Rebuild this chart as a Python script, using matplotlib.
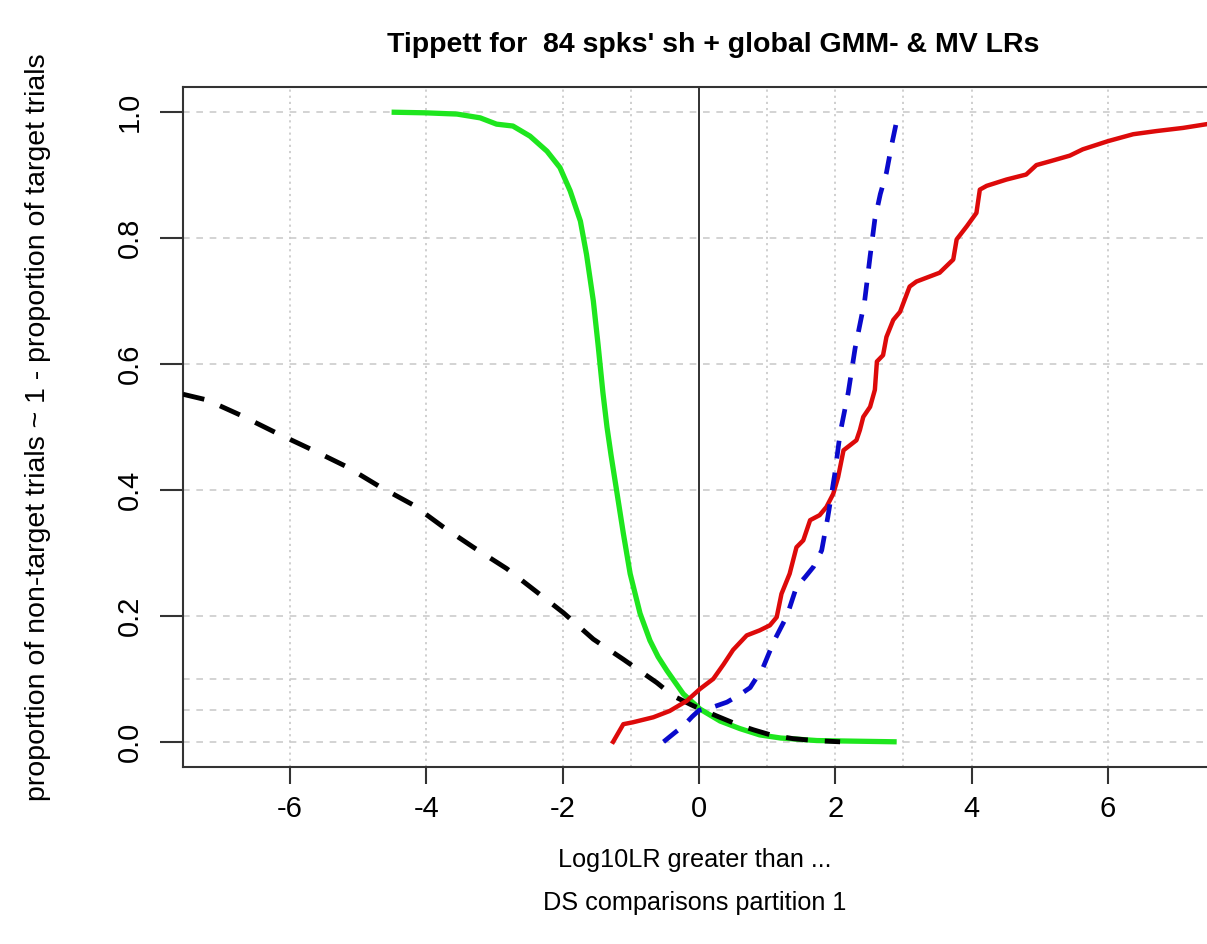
import matplotlib
matplotlib.use("Agg")
import matplotlib.pyplot as plt

# ---------------- data ----------------
title = "Tippett for  84 spks' sh + global GMM- & MV LRs"
xlabel_lines = ["Log10LR greater than ...", "DS comparisons partition 1"]
ylabel = "proportion of non-target trials ~ 1 - proportion of target trials"

x_ticks = [-6, -4, -2, 0, 2, 4, 6]
y_ticks = [0.0, 0.2, 0.4, 0.6, 0.8, 1.0]
y_tick_labels = ["0.0", "0.2", "0.4", "0.6", "0.8", "1.0"]
x_grid = [-6, -4, -2, -1, 1, 2, 3, 4, 6]
y_grid = [0.0, 0.05, 0.1, 0.2, 0.4, 0.6, 0.8, 1.0]

# green: non-target (solid)
green_x = [-4.51, -4.02, -3.55, -3.21, -2.97, -2.73, -2.48, -2.23, -2.04, -1.89,
           -1.74, -1.65, -1.55, -1.48, -1.41, -1.35, -1.29, -1.21, -1.11, -1.01,
           -0.865, -0.72, -0.60, -0.47, -0.23, 0.015, 0.31, 0.60, 0.89, 1.2, 1.73, 2.3, 2.9]
green_y = [1.0, 0.999, 0.997, 0.991, 0.981, 0.978, 0.962, 0.938, 0.912, 0.875,
           0.827, 0.774, 0.70, 0.63, 0.555, 0.50, 0.455, 0.40, 0.331, 0.267,
           0.204, 0.161, 0.135, 0.113, 0.076, 0.052, 0.033, 0.021, 0.011, 0.006, 0.002, 0.001, 0.0]

# black dashed: non-target (MV)
black_x = [-7.57, -7.22, -6.73, -6.19, -5.66, -5.17, -4.68, -4.19, -3.75, -3.31,
           -2.82, -2.38, -1.99, -1.55, -1.11, -0.62, -0.38, -0.08, 0.26, 0.55,
           0.80, 1.05, 1.38, 1.7, 2.07]
black_y = [0.552, 0.543, 0.519, 0.49, 0.463, 0.437, 0.405, 0.376, 0.341, 0.309,
           0.275, 0.238, 0.205, 0.163, 0.131, 0.094, 0.073, 0.057, 0.041, 0.028,
           0.019, 0.011, 0.005, 0.002, 0.0]

# red: target (solid, step-like)
red_x = [-1.26, -1.11, -0.97, -0.67, -0.43, -0.18, 0.015, 0.21, 0.36, 0.50,
         0.70, 0.89, 1.04, 1.14, 1.21, 1.33, 1.43, 1.53, 1.63, 1.77,
         1.87, 1.97, 2.04, 2.12, 2.31, 2.36, 2.41, 2.51, 2.58, 2.61,
         2.70, 2.75, 2.85, 2.95, 3.09, 3.19, 3.53, 3.73, 3.78, 3.93,
         4.07, 4.12, 4.22, 4.51, 4.80, 4.95, 5.15, 5.44, 5.63, 6.0,
         6.37, 6.71, 7.10, 7.45, 7.6]
red_y = [0.0, 0.028, 0.031, 0.039, 0.049, 0.065, 0.084, 0.10, 0.123, 0.146,
         0.169, 0.177, 0.185, 0.198, 0.235, 0.267, 0.309, 0.32, 0.352, 0.36,
         0.373, 0.394, 0.42, 0.463, 0.479, 0.495, 0.516, 0.532, 0.559, 0.604,
         0.614, 0.643, 0.670, 0.683, 0.723, 0.731, 0.745, 0.766, 0.798, 0.819,
         0.84, 0.877, 0.883, 0.893, 0.901, 0.916, 0.922, 0.931, 0.941, 0.954,
         0.965, 0.97, 0.975, 0.981, 0.982]

# blue dashed: target (MV)
blue_x = [-0.52, -0.35, -0.23, -0.10, 0.0, 0.2, 0.41, 0.6, 0.75, 0.94,
          1.1, 1.29, 1.43, 1.56, 1.68, 1.80, 1.89, 1.99, 2.07, 2.19,
          2.29, 2.43, 2.51, 2.58, 2.66, 2.75, 2.83, 2.90, 2.93]
blue_y = [0.0, 0.015, 0.025, 0.04, 0.05, 0.055, 0.063, 0.075, 0.086, 0.118,
          0.16, 0.20, 0.246, 0.262, 0.278, 0.304, 0.357, 0.424, 0.49, 0.555,
          0.625, 0.70, 0.771, 0.83, 0.87, 0.904, 0.95, 0.986, 0.995]

# ---------------- figure ----------------
W, H = 1207, 944
fig = plt.figure(figsize=(W / 100, H / 100), dpi=100)
plt.rcParams['font.family'] = ['Liberation Sans', 'DejaVu Sans']

left, right, top, bottom = 183, 1215, 87, 767
ax = fig.add_axes([left / W, 1 - bottom / H, (right - left) / W, (bottom - top) / H])
ax.set_xlim(-7.57, 7.57)
ax.set_ylim(-0.04, 1.04)

grid_col = "#cccccc"
for gx in x_grid:
    ax.axvline(gx, color=grid_col, lw=1.3, ls=(0, (1.2, 2.2)), zorder=1)
for gy in y_grid:
    ax.axhline(gy, color=grid_col, lw=1.2, ls=(0, (4, 4)), zorder=1)
ax.axvline(0, color="#222222", lw=1.3, zorder=2)

ax.plot(green_x, green_y, color="#1ee61e", lw=3.8, solid_capstyle="butt", zorder=3)
ax.plot(black_x, black_y, color="black", lw=3.5, ls=(0, (4.5, 3.5)), zorder=4)
ax.plot(red_x, red_y, color="#dd0a0a", lw=3.2, zorder=5)
ax.plot(blue_x, blue_y, color="#0a0acc", lw=3.4, ls=(0, (3.8, 3.0)), zorder=6)

for side in ["left", "top", "bottom"]:
    ax.spines[side].set_color("#333333")
    ax.spines[side].set_linewidth(1.5)
ax.spines["right"].set_visible(False)

ax.set_xticks(x_ticks)
ax.set_xticklabels([str(t) for t in x_ticks])
ax.set_yticks(y_ticks)
ax.set_yticklabels(y_tick_labels, rotation=90, va="center")
ax.tick_params(axis="x", length=12, width=1.5, color="#333333", pad=8, labelsize=21)
ax.tick_params(axis="y", length=16.5, width=1.5, color="#333333", pad=12, labelsize=21)

fig.text(713 / W, 1 - 45 / H, title, ha="center", va="center",
         fontsize=20.5, fontweight="bold")
fig.text(695 / W, 1 - 860 / H, xlabel_lines[0], ha="center", va="center", fontsize=18.2)
fig.text(695 / W, 1 - 903 / H, xlabel_lines[1], ha="center", va="center", fontsize=18.2)
fig.text(38 / W, 1 - 427 / H, ylabel, ha="center", va="center", rotation=90, fontsize=20.5)

fig.savefig("out.png", dpi=100)
